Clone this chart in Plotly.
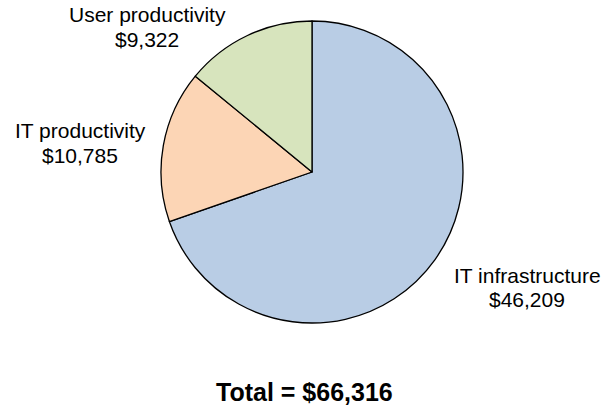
import plotly.graph_objects as go

labels = ["IT infrastructure", "IT productivity", "User productivity"]
values = [46209, 10785, 9322]
colors = ["#B9CDE5", "#FCD5B5", "#D7E4BD"]
total_label = "Total = $66,316"

W, H = 605, 411
# label centre positions in pixels (x, y of first line)
label_pos = [(527, 275), (80, 131), (147, 15)]
LINE_GAP = 24

fig = go.Figure(go.Pie(
    labels=labels, values=values, sort=False, direction="clockwise", rotation=0,
    marker=dict(colors=colors, line=dict(color="#000000", width=1.3)),
    textinfo="none", hoverinfo="label+value", showlegend=False,
    domain=dict(x=[161 / W, 463 / W], y=[1 - 323 / H, 1 - 21 / H]),
))

font = dict(family="Liberation Sans, Arial", size=21, color="#000000")
anns = []
for (lab, val), (px, py) in zip(zip(labels, values), label_pos):
    anns.append(dict(text=lab, x=px / W, y=1 - py / H, xref="paper", yref="paper",
                     xanchor="center", yanchor="middle", showarrow=False, font=font))
    anns.append(dict(text=f"${val:,}", x=px / W, y=1 - (py + LINE_GAP) / H, xref="paper", yref="paper",
                     xanchor="center", yanchor="middle", showarrow=False, font=font))
anns.append(dict(text=f"<b>{total_label}</b>", x=304 / W, y=1 - 392 / H, xref="paper", yref="paper",
                 xanchor="center", yanchor="middle", showarrow=False,
                 font=dict(family="Liberation Sans, Arial", size=25, color="#000000")))

fig.update_layout(width=W, height=H, margin=dict(l=0, r=0, t=0, b=0),
                  paper_bgcolor="white", plot_bgcolor="white", annotations=anns)
fig.write_html("out.html")
